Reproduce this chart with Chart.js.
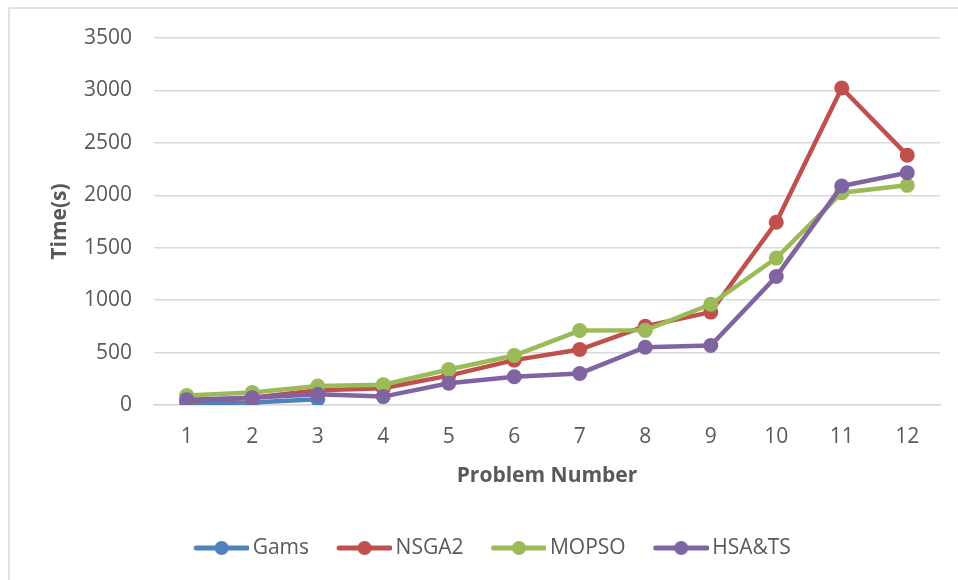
<!DOCTYPE html>
<html>
<head>
<meta charset="utf-8">
<script src="https://cdn.jsdelivr.net/npm/chart.js@4/dist/chart.umd.min.js"></script>
<style>
  html, body { margin: 0; padding: 0; background: #ffffff; }
  #wrap { width: 958px; height: 580px; }
</style>
</head>
<body>
<div id="wrap"><canvas id="chart" width="958" height="580"></canvas></div>
<script>
// Problem numbers on the x axis
const problems = ['1', '2', '3', '4', '5', '6', '7', '8', '9', '10', '11', '12'];

// Run time in seconds for each method
const gams   = [15, 25, 55, null, null, null, null, null, null, null, null, null];
const nsga2  = [40, 70, 140, 160, 280, 428, 529, 751, 886, 1743, 3023, 2383];
const mopso  = [90, 120, 181, 194, 339, 472, 710, 712, 960, 1401, 2025, 2095];
const hsats  = [51, 70, 102, 80, 208, 270, 301, 551, 567, 1226, 2088, 2215];

// Y axis ticks
const yTicks = [0, 500, 1000, 1500, 2000, 2500, 3000, 3500];

const COLORS = {
  gams: '#4F81BD',
  nsga2: '#C0504D',
  mopso: '#9BBB59',
  hsats: '#8064A2'
};
const TEXT = '#595959';
const GRID = '#d9d9d9';
const FONT = "'Open Sans', 'DejaVu Sans', sans-serif";

// Legend symbol: a short thick line with a dot in the middle
function legendSymbol(color) {
  const c = document.createElement('canvas');
  c.width = 62; c.height = 18;
  const g = c.getContext('2d');
  g.strokeStyle = color;
  g.lineWidth = 5;
  g.lineCap = 'round';
  g.beginPath();
  g.moveTo(9, 9);
  g.lineTo(60, 9);
  g.stroke();
  g.fillStyle = color;
  g.beginPath();
  g.arc(34.5, 9, 7, 0, Math.PI * 2);
  g.fill();
  return c;
}

function series(label, data, color, order) {
  return {
    label, data, order,
    borderColor: color,
    backgroundColor: color,
    borderWidth: 4.5,
    pointRadius: 7.5,
    pointHoverRadius: 7.5,
    pointBorderWidth: 0,
    pointBackgroundColor: color,
    tension: 0,
    spanGaps: false,
    _symbol: legendSymbol(color)
  };
}

// Light frame along the top and left edges of the figure
const framePlugin = {
  id: 'frame',
  beforeDraw(chart) {
    const ctx = chart.ctx;
    ctx.save();
    ctx.fillStyle = '#ffffff';
    ctx.fillRect(0, 0, chart.width, chart.height);
    ctx.strokeStyle = GRID;
    ctx.lineWidth = 1.5;
    ctx.beginPath();
    ctx.moveTo(9, chart.height);
    ctx.lineTo(9, 8);
    ctx.lineTo(chart.width, 8);
    ctx.stroke();
    ctx.restore();
  }
};

new Chart(document.getElementById('chart'), {
  type: 'line',
  data: {
    labels: problems,
    datasets: [
      series('Gams', gams, COLORS.gams, 4),
      series('NSGA2', nsga2, COLORS.nsga2, 3),
      series('MOPSO', mopso, COLORS.mopso, 2),
      series('HSA&TS', hsats, COLORS.hsats, 1)
    ]
  },
  plugins: [framePlugin],
  options: {
    responsive: false,
    animation: false,
    devicePixelRatio: 1,
    layout: { padding: { left: 45, right: 18, top: 38, bottom: 11.5 } },
    plugins: {
      tooltip: { enabled: false },
      legend: {
        position: 'bottom',
        labels: {
          color: TEXT,
          font: { family: FONT, size: 21 },
          usePointStyle: true,
          pointStyleWidth: 48,
          padding: 28,
          sort: (a, b) => a.datasetIndex - b.datasetIndex,
          generateLabels(chart) {
            const items = Chart.defaults.plugins.legend.labels.generateLabels(chart);
            items.forEach(it => {
              it.pointStyle = chart.data.datasets[it.datasetIndex]._symbol;
            });
            return items;
          }
        }
      }
    },
    scales: {
      x: {
        offset: true,
        grid: { display: false, drawTicks: false },
        border: { display: true, color: GRID, width: 1.5 },
        ticks: {
          color: TEXT,
          font: { family: FONT, size: 21 },
          padding: 19,
          maxRotation: 0
        },
        title: {
          display: true,
          text: 'Problem Number',
          color: TEXT,
          font: { family: FONT, size: 21, weight: 'bold' },
          padding: { top: 0, bottom: 21 }
        },
        afterFit(scale) { scale.height = 104.5; }
      },
      y: {
        min: 0,
        max: 3500,
        afterBuildTicks(scale) { scale.ticks = yTicks.map(v => ({ value: v })); },
        grid: { color: GRID, lineWidth: 1.5, drawTicks: false },
        border: { display: false },
        ticks: {
          color: TEXT,
          font: { family: FONT, size: 21 },
          padding: 22,
          callback: v => String(v)
        },
        title: {
          display: true,
          text: 'Time(s)',
          color: TEXT,
          font: { family: FONT, size: 21, weight: 'bold' },
          padding: { top: 2.4, bottom: 0 }
        },
        afterFit(scale) { scale.width = 109; }
      }
    }
  }
});
</script>
</body>
</html>
